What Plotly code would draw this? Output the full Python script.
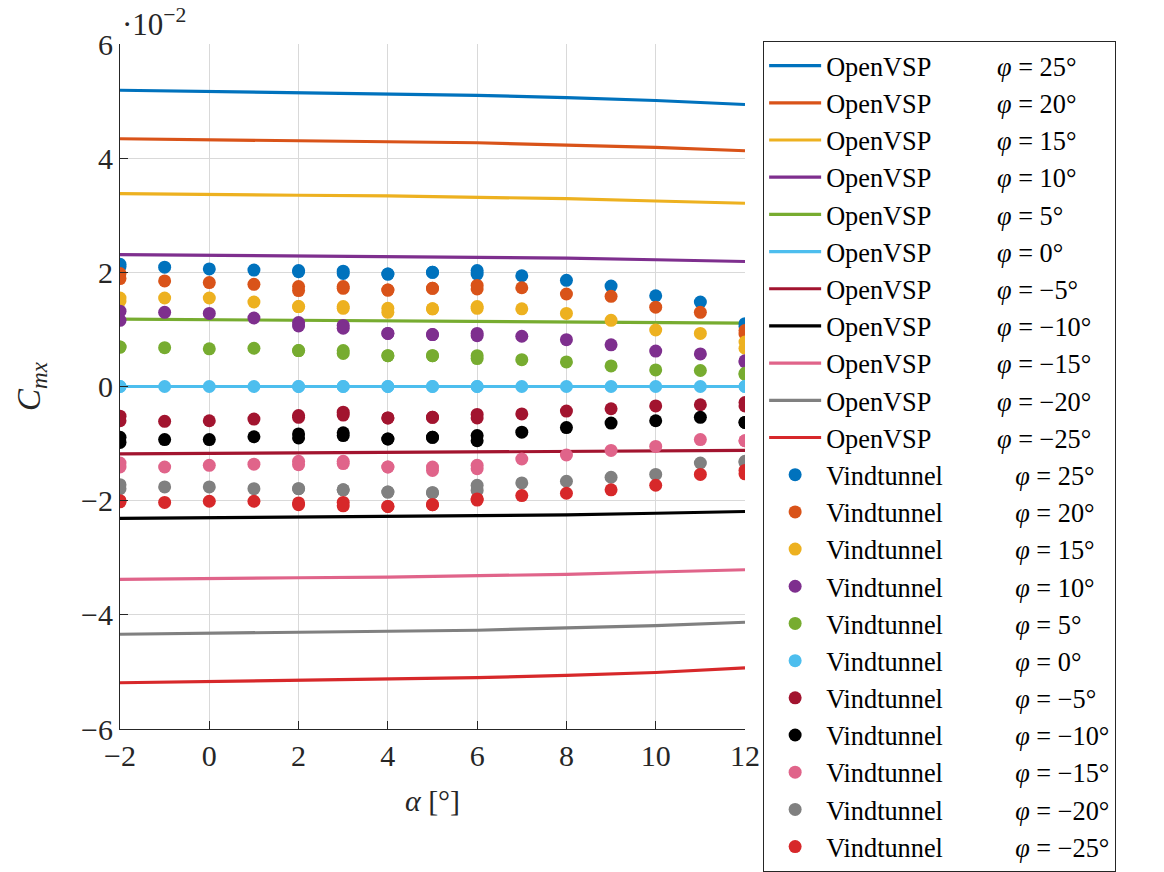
import plotly.graph_objects as go

# ---- data (C_mx in units of 1e-2) ----
phi_labels = ["25", "20", "15", "10", "5", "0", "\u22125", "\u221210", "\u221215", "\u221220", "\u221225"]
colors = ["#0072BD", "#D95319", "#EDB120", "#7E2F8E", "#77AC30", "#4DBEEE",
          "#A2142F", "#000000", "#E0648A", "#808080", "#D7282A"]

alpha_vsp = [-2, 0, 2, 4, 6, 8, 10, 12]
vsp_25 = [5.19, 5.17, 5.15, 5.13, 5.10, 5.06, 5.01, 4.94]
vsp_20 = [4.34, 4.32, 4.31, 4.29, 4.27, 4.23, 4.19, 4.13]
vsp_15 = [3.38, 3.36, 3.35, 3.34, 3.32, 3.29, 3.25, 3.21]
vsp_10 = [2.31, 2.30, 2.29, 2.28, 2.27, 2.25, 2.22, 2.19]
vsp_5 = [1.18, 1.17, 1.17, 1.16, 1.15, 1.14, 1.12, 1.11]
vsp_0 = [0, 0, 0, 0, 0, 0, 0, 0]
vsp_m5 = [-1.18, -1.17, -1.17, -1.16, -1.15, -1.14, -1.13, -1.12]
vsp_m10 = [-2.31, -2.30, -2.29, -2.28, -2.27, -2.25, -2.22, -2.19]
vsp_m15 = [-3.38, -3.36, -3.35, -3.34, -3.32, -3.29, -3.25, -3.21]
vsp_m20 = [-4.34, -4.32, -4.31, -4.29, -4.27, -4.23, -4.19, -4.13]
vsp_m25 = [-5.19, -5.17, -5.15, -5.13, -5.10, -5.06, -5.01, -4.93]

alpha_wt = [-2, -2, -1, 0, 1, 2, 2, 3, 3, 4, 4, 5, 5, 6, 6, 7, 8, 9, 10, 11, 12, 12]
wt_25 = [2.14, 2.10, 2.09, 2.06, 2.04, 2.03, 2.01, 2.02, 1.98, 1.97, 1.97, 2.00, 2.00, 2.03, 1.97, 1.94, 1.86, 1.76, 1.59, 1.48, 1.10, 1.05]
wt_20 = [1.98, 1.89, 1.85, 1.82, 1.79, 1.75, 1.68, 1.75, 1.72, 1.69, 1.69, 1.72, 1.72, 1.77, 1.71, 1.73, 1.62, 1.58, 1.39, 1.30, 0.98, 0.92]
wt_15 = [1.55, 1.50, 1.55, 1.55, 1.48, 1.40, 1.40, 1.40, 1.37, 1.37, 1.30, 1.36, 1.36, 1.40, 1.37, 1.36, 1.28, 1.16, 0.99, 0.93, 0.78, 0.67]
wt_10 = [1.32, 1.16, 1.30, 1.28, 1.20, 1.12, 1.06, 1.07, 1.02, 0.93, 0.93, 0.91, 0.91, 0.93, 0.89, 0.88, 0.82, 0.73, 0.62, 0.57, 0.45, 0.43]
wt_5 = [0.69, 0.69, 0.68, 0.66, 0.67, 0.63, 0.63, 0.63, 0.58, 0.54, 0.54, 0.54, 0.54, 0.54, 0.49, 0.47, 0.43, 0.36, 0.29, 0.28, 0.23, 0.21]
wt_0 = [0.0] * 22
wt_m5 = [-0.52, -0.60, -0.61, -0.60, -0.57, -0.51, -0.54, -0.45, -0.50, -0.55, -0.55, -0.54, -0.54, -0.49, -0.55, -0.48, -0.43, -0.39, -0.34, -0.32, -0.28, -0.34]
wt_m10 = [-0.89, -0.98, -0.93, -0.93, -0.88, -0.83, -0.90, -0.81, -0.86, -0.92, -0.92, -0.89, -0.89, -0.86, -0.95, -0.80, -0.72, -0.64, -0.60, -0.54, -0.63, -0.63]
wt_m15 = [-1.34, -1.41, -1.41, -1.38, -1.36, -1.31, -1.37, -1.31, -1.35, -1.41, -1.41, -1.41, -1.47, -1.38, -1.44, -1.27, -1.20, -1.12, -1.05, -0.93, -0.95, -0.95]
wt_m20 = [-1.72, -1.79, -1.76, -1.76, -1.79, -1.79, -1.79, -1.81, -1.81, -1.85, -1.85, -1.86, -1.86, -1.73, -1.82, -1.69, -1.66, -1.59, -1.54, -1.34, -1.31, -1.33]
wt_m25 = [-2.00, -2.02, -2.03, -2.01, -2.01, -2.04, -2.07, -2.03, -2.09, -2.10, -2.10, -2.07, -2.07, -1.97, -1.99, -1.91, -1.87, -1.81, -1.73, -1.54, -1.47, -1.53]

vsp_series = [vsp_25, vsp_20, vsp_15, vsp_10, vsp_5, vsp_0, vsp_m5, vsp_m10, vsp_m15, vsp_m20, vsp_m25]
wt_series = [wt_25, wt_20, wt_15, wt_10, wt_5, wt_0, wt_m5, wt_m10, wt_m15, wt_m20, wt_m25]

x_ticks = [-2, 0, 2, 4, 6, 8, 10, 12]
y_ticks = [-6, -4, -2, 0, 2, 4, 6]

FONT = "Liberation Serif"
TXT = "#262626"
GAP_VSP = "\u00a0" * 10
GAP_WT = "\u00a0" * 11

fig = go.Figure()
for lab, col, ys in zip(phi_labels, colors, vsp_series):
    fig.add_trace(go.Scatter(
        x=alpha_vsp, y=ys, mode="lines", line=dict(color=col, width=3.2),
        name=f"OpenVSP{GAP_VSP}<i>\u03c6</i>\u00a0=\u00a0{lab}\u00b0"))
for lab, col, ys in zip(phi_labels, colors, wt_series):
    fig.add_trace(go.Scatter(
        x=alpha_wt, y=ys, mode="markers", marker=dict(color=col, size=13),
        name=f"Vindtunnel{GAP_WT}<i>\u03c6</i>\u00a0=\u00a0{lab}\u00b0"))

axis_common = dict(
    showgrid=True, gridcolor="#d9d9d9", gridwidth=1,
    showline=True, linecolor="#262626", linewidth=1.2,
    ticks="inside", ticklen=8, tickcolor="#262626",
    tickfont=dict(family=FONT, size=30, color=TXT),
    zeroline=False, mirror=False,
)

fig.update_layout(
    width=1164, height=872,
    margin=dict(l=120, r=419, t=44, b=143),
    paper_bgcolor="white", plot_bgcolor="white",
    font=dict(family=FONT, color=TXT),
    xaxis=dict(range=[-2, 12], tickvals=x_ticks, ticktext=[str(v).replace("-", "\u2212") for v in x_ticks],
               title=dict(text="<i>\u03b1</i> [\u00b0]", font=dict(family=FONT, size=30, color=TXT), standoff=18),
               **axis_common),
    yaxis=dict(range=[-6, 6], tickvals=y_ticks, ticktext=[str(v).replace("-", "\u2212") for v in y_ticks],
               title=dict(text="<i>C</i><sub><i>mx</i></sub>", font=dict(family=FONT, size=33, color=TXT), standoff=30),
               **axis_common),
    legend=dict(x=1.029, y=1, xanchor="left", yanchor="top",
                bordercolor="#262626", borderwidth=1, bgcolor="white",
                font=dict(family=FONT, size=26.3, color="#000000"),
                tracegroupgap=0, itemwidth=52, maxheight=860),
    showlegend=True,
)

fig.add_annotation(
    xref="paper", yref="paper", x=0, y=1, xanchor="left", yanchor="bottom",
    text="\u00b710<sup>\u22122</sup>", showarrow=False, yshift=0,
    font=dict(family=FONT, size=31, color=TXT))

fig.write_html("out.html")
